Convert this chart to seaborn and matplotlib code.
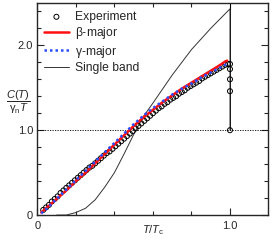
import numpy as np
import pandas as pd
import matplotlib
matplotlib.use('Agg')
import matplotlib.pyplot as plt
import seaborn as sns
from matplotlib.ticker import MultipleLocator, FixedLocator

# experiment (open circles)
exp_t = [0.03, 0.045, 0.06, 0.075, 0.09, 0.105, 0.12, 0.135, 0.15, 0.165,
         0.18, 0.195, 0.21, 0.225, 0.24, 0.255, 0.27, 0.285, 0.30, 0.315,
         0.33, 0.345, 0.36, 0.375, 0.39, 0.405, 0.42, 0.435, 0.45, 0.465,
         0.48, 0.495, 0.51, 0.525, 0.54, 0.555, 0.57, 0.585, 0.60, 0.615,
         0.63, 0.645, 0.66, 0.675, 0.69, 0.705, 0.72, 0.735, 0.75, 0.765,
         0.78, 0.795, 0.81, 0.825, 0.84, 0.855, 0.87, 0.885, 0.90, 0.915,
         0.93, 0.945, 0.96, 0.975, 0.99,
         1.0, 1.0, 1.0, 1.0, 1.0]
exp_c = [0.06, 0.09, 0.12, 0.16, 0.19, 0.22, 0.26, 0.29, 0.32, 0.35,
         0.38, 0.41, 0.44, 0.47, 0.50, 0.53, 0.56, 0.58, 0.61, 0.64,
         0.67, 0.70, 0.73, 0.75, 0.78, 0.81, 0.84, 0.87, 0.90, 0.93,
         0.96, 0.99, 1.02, 1.05, 1.08, 1.11, 1.14, 1.17, 1.20, 1.23,
         1.26, 1.28, 1.31, 1.33, 1.36, 1.38, 1.40, 1.43, 1.45, 1.47,
         1.50, 1.52, 1.54, 1.56, 1.58, 1.61, 1.63, 1.65, 1.67, 1.69,
         1.71, 1.73, 1.75, 1.77, 1.78,
         1.78, 1.72, 1.60, 1.46, 1.00]

# two-band fits
fit_t = [0.02, 0.05, 0.1, 0.15, 0.2, 0.25, 0.3, 0.35, 0.4, 0.45, 0.5, 0.55,
         0.6, 0.65, 0.7, 0.75, 0.8, 0.85, 0.9, 0.95, 0.975, 0.985]
beta_c = [0.03, 0.09, 0.19, 0.29, 0.40, 0.50, 0.61, 0.72, 0.83, 0.94, 1.05, 1.15,
          1.24, 1.33, 1.41, 1.49, 1.56, 1.63, 1.70, 1.77, 1.81, 1.82]
gamma_c = [0.02, 0.08, 0.19, 0.30, 0.41, 0.52, 0.63, 0.74, 0.85, 0.96, 1.07, 1.17,
           1.26, 1.34, 1.42, 1.49, 1.55, 1.62, 1.68, 1.74, 1.77, 1.78]

# single band BCS
bcs_t = [0.10, 0.15, 0.2, 0.25, 0.3, 0.35, 0.4, 0.45, 0.5, 0.55, 0.6, 0.7, 0.8, 0.9, 1.0, 1.0]
bcs_c = [0.0, 0.0, 0.03, 0.08, 0.18, 0.33, 0.50, 0.72, 0.95, 1.16, 1.32, 1.65, 1.95, 2.2, 2.43, 1.0]

sns.set_theme(style='ticks')
plt.rcParams['font.family'] = ['Liberation Sans', 'DejaVu Sans']
plt.rcParams['mathtext.fontset'] = 'custom'
plt.rcParams['mathtext.rm'] = 'Liberation Sans'
plt.rcParams['mathtext.it'] = 'Liberation Sans:italic'
plt.rcParams['font.size'] = 8

fig = plt.figure(figsize=(2.73, 2.43), dpi=100)
ax = fig.add_axes([0.137, 0.115, 0.8465, 0.873])

ax.axhline(1.0, color='black', lw=0.6, ls=(0, (1.5, 1.5)), zorder=1)
ax.vlines(1.0, 1.0, 2.5, color='black', lw=0.7, zorder=2)

df_exp = pd.DataFrame({'t': exp_t, 'c': exp_c})
df_fit = pd.DataFrame({'t': fit_t, 'beta': beta_c, 'gamma': gamma_c})
df_bcs = pd.DataFrame({'t': bcs_t, 'c': bcs_c})

sns.scatterplot(data=df_exp, x='t', y='c', ax=ax, marker='o', s=13,
                facecolor='none', edgecolor='black', linewidth=0.7,
                label='Experiment', zorder=3)
sns.lineplot(data=df_fit, x='t', y='beta', ax=ax, color='#ff1010', lw=1.8,
             label=r'$\mathrm{\beta}$-major', sort=False, estimator=None, zorder=4)
sns.lineplot(data=df_fit, x='t', y='gamma', ax=ax, color='#2a4dff', lw=1.8,
             ls=(0, (1, 1.2)), label=r'$\mathrm{\gamma}$-major', sort=False,
             estimator=None, zorder=5)
sns.lineplot(data=df_bcs, x='t', y='c', ax=ax, color='#333333', lw=0.7,
             label='Single band', sort=False, estimator=None, zorder=2)

ax.set_xlim(0, 1.2)
ax.set_ylim(0, 2.5)
ax.xaxis.set_major_locator(FixedLocator([0, 1.0]))
ax.xaxis.set_minor_locator(FixedLocator([0.2, 0.4, 0.6, 0.8]))
ax.set_xticklabels(['0', '1.0'])
ax.yaxis.set_major_locator(FixedLocator([0, 1.0, 2.0]))
ax.yaxis.set_minor_locator(MultipleLocator(0.2))
ax.set_yticklabels(['0', '1.0', '2.0'])
ax.tick_params(which='both', direction='in', top=True, right=True,
               labelsize=8, width=0.8, pad=3)
ax.tick_params(axis='x', which='both', pad=4.5)
ax.tick_params(which='major', length=5)
ax.tick_params(which='minor', length=3)
for sp in ax.spines.values():
    sp.set_linewidth(1.0)

ax.set_xlabel(r'$T/T_\mathrm{c}$', fontsize=8, labelpad=-6)
ax.set_ylabel('')
ax.text(-0.085, 0.53, r'$\dfrac{C(T)}{\mathrm{\gamma_n}T}$', transform=ax.transAxes,
        ha='center', va='center', fontsize=8)

ax.legend(loc='upper left', bbox_to_anchor=(0.03, 0.962), frameon=False,
          fontsize=8.7, handlelength=2.0, handletextpad=0.55, labelspacing=0.19,
          borderpad=0, borderaxespad=0)

fig.savefig('out.png', dpi=100)
